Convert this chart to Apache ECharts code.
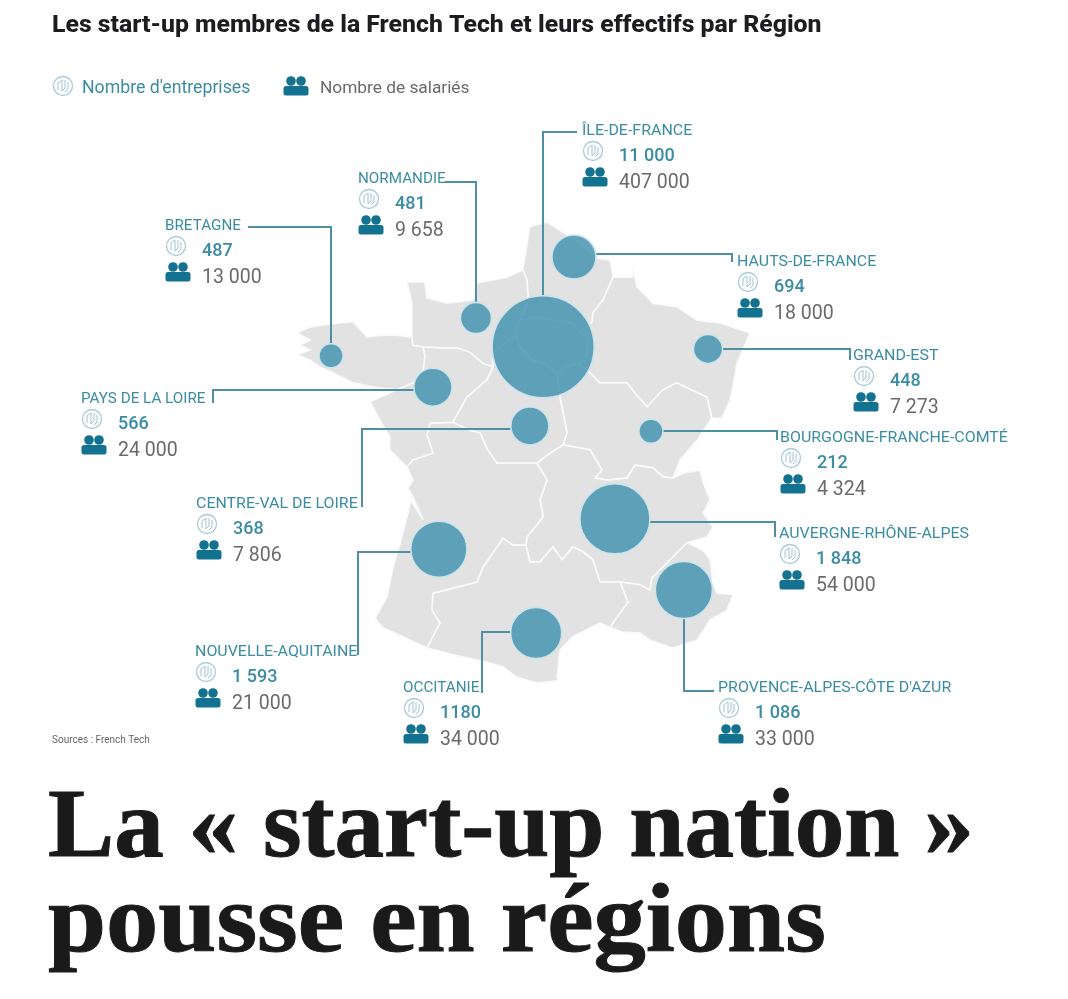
<!DOCTYPE html>
<html lang="fr">
<head>
<meta charset="utf-8">
<title>La start-up nation pousse en régions</title>
<style>
html, body { margin: 0; padding: 0; background: #fff; }
#main { width: 1068px; height: 999px; }
</style>
<script src="https://cdn.jsdelivr.net/npm/echarts@6/dist/echarts.min.js"></script>
</head>
<body>
<div id="main"></div>
<script>
var regions = ['Île-de-France', 'Normandie', 'Bretagne', 'Hauts-de-France', 'Grand-Est', 'Bourgogne-Franche-Comté',
    'Pays de la Loire', 'Centre-Val de Loire', 'Auvergne-Rhône-Alpes', 'Nouvelle-Aquitaine', 'Occitanie', 'Provence-Alpes-Côte d\'Azur'];
var entreprises = ['11 000', '481', '487', '694', '448', '212', '566', '368', '1 848', '1 593', '1180', '1 086'];
var salaries = ['407 000', '9 658', '13 000', '18 000', '7 273', '4 324', '24 000', '7 806', '54 000', '21 000', '34 000', '33 000'];
var longitudes = [2.29, 0.37, -3.77, 3.17, 7.0, 5.37, -0.86, 1.91, 4.34, -0.69, 2.09, 6.31];
var latitudes = [48.70, 49.24, 48.53, 50.39, 48.66, 47.11, 47.94, 47.21, 45.46, 44.89, 43.31, 44.12];

// contours des regions (lon, lat), chaque frontiere une seule fois
var coastHdf = [[1.71,50.15],[1.91,50.96],[2.40,51.05],[3.20,50.71],[3.83,50.37],[4.20,50.33],[4.29,50.01]];
var hdfGe = [[4.29,50.01],[4.0,49.58],[3.71,49.34],[3.69,49.17],[3.34,48.96]];
var hdfIdf = [[1.63,49.2],[2.11,49.26],[2.57,49.2],[3.14,49.15],[3.34,48.96]];
var normHdf = [[1.71,50.15],[1.83,49.96],[1.86,49.58],[1.63,49.2]];
var geOuter = [[4.29,50.01],[4.83,50.01],[4.86,50.15],[4.97,49.83],[5.43,49.52],[6.11,49.45],[6.69,49.2],[7.34,49.15],[8.2,48.96],[7.83,48.39],[7.71,47.94],[7.63,47.7],[7.4,47.36],[7.11,47.36]];
var geBfc = [[3.26,48.39],[3.63,48.21],[3.91,48.02],[4.69,48.02],[4.91,47.83],[5.26,47.57],[5.71,47.89],[6.11,48.02],[6.97,47.75],[7.11,47.36]];
var geIdf = [[3.34,48.96],[3.57,48.88],[3.54,48.45],[3.26,48.39]];
var bfcOuter = [[7.11,47.36],[6.69,46.94],[6.2,46.57],[6.0,46.23]];
var bfcAra = [[2.86,46.85],[3.63,46.76],[3.97,46.38],[3.77,46.23],[4.11,46.19],[4.69,46.23],[4.91,46.47],[5.43,46.42],[5.71,46.25],[6.0,46.23]];
var cvlBfc = [[2.86,46.85],[2.97,47.08],[2.86,47.45],[2.77,47.74],[2.69,48.21]];
var idfBfc = [[3.26,48.39],[2.97,48.32],[2.69,48.21]];
var araOuter = [[6.0,46.23],[6.29,46.32],[6.77,46.38],[6.86,46.14],[7.06,45.82],[6.86,45.57],[7.14,45.31],[6.97,45.12],[6.4,45.01]];
var araPaca = [[4.49,44.27],[5.06,44.22],[5.34,44.12],[5.4,44.35],[5.83,44.63],[6.4,45.01]];
var occAra = [[1.8,44.97],[1.91,44.65],[2.2,44.65],[2.57,44.93],[2.83,44.69],[3.14,44.93],[3.43,44.84],[3.71,44.69],[3.91,44.27],[4.49,44.27]];
var araNa = [[2.11,46.51],[2.4,46.19],[2.2,45.82],[2.29,45.5],[1.83,45.12],[1.8,44.97]];
var cvlAra = [[2.11,46.51],[2.49,46.7],[2.86,46.85]];
var pacaOuter = [[6.4,45.01],[6.86,44.87],[7.06,44.69],[7.14,44.25],[7.26,44.06],[7.71,44.03],[7.54,43.74],[7.06,43.56],[6.69,43.18],[6.0,43.03],[5.34,43.18],[5.06,43.31],[4.54,43.33],[4.2,43.42]];
var occPaca = [[4.49,44.27],[4.71,43.89],[4.49,43.69],[4.2,43.42]];
var occOuter = [[4.2,43.42],[3.91,43.5],[3.14,43.24],[2.77,42.99],[2.69,42.48],[2.71,42.41],[2.11,42.37],[1.54,42.48],[1.14,42.67],[0.69,42.76],[0,42.86],[-1.03,43.03]];
var occNa = [[1.8,44.97],[1.43,44.97],[1.14,45.1],[0.97,44.93],[0.57,44.55],[0.4,44.27],[-0.86,44.06],[-0.89,43.74],[-0.66,43.5],[-1.03,43.03]];
var naOuter = [[-1.03,43.03],[-1.71,43.24],[-2.29,43.41],[-2.51,43.59],[-2.17,43.99],[-2.0,44.55],[-1.8,45.0],[-1.6,45.49],[-1.49,45.81],[-1.14,45.44],[-1.43,45.87],[-1.57,46.04],[-1.43,46.19],[-1.6,46.44]];
var pdlNa = [[-0.29,47.28],[-0.94,47.26],[-1.03,47.04],[-0.86,46.7],[-1.43,46.57],[-1.6,46.44]];
var cvlNa = [[-0.29,47.28],[0.2,47.13],[0.49,47.08],[0.71,46.76],[0.97,46.51],[2.11,46.51]];
var pdlOuter = [[-1.6,46.44],[-2.09,46.76],[-2.09,47.0],[-2.37,47.32],[-2.66,47.66],[-2.37,47.75],[-1.89,47.89]];
var bzhPdl = [[-1.14,48.7],[-1.09,48.51],[-1.14,48.26],[-1.43,48.02],[-1.89,47.89]];
var normPdl = [[0.86,48.32],[0.57,48.39],[0.2,48.6],[-0.17,48.68],[-0.57,48.68],[-1.14,48.7]];
var pdlCvl = [[0.86,48.32],[0.69,48.08],[0.11,47.75],[-0.09,47.51],[-0.29,47.28]];
var bzhOuter = [[-1.89,47.89],[-2.57,47.94],[-3.14,48.02],[-3.71,48.21],[-4.09,48.32],[-4.37,48.45],[-4.74,48.55],[-4.37,48.64],[-4.66,48.73],[-4.37,48.83],[-4.74,48.96],[-4.37,49.07],[-4.0,49.11],[-3.51,49.15],[-3.14,49.17],[-2.74,48.88],[-2.37,48.92],[-1.89,48.92],[-1.46,48.88]];
var normBzh = [[-1.14,48.7],[-1.43,48.73],[-1.46,48.88]];
var normOuter = [[-1.46,48.88],[-1.46,49.2],[-1.46,49.52],[-1.6,49.92],[-1.09,49.92],[-1.03,49.62],[-0.46,49.52],[0.29,49.58],[0.4,49.9],[1.26,50.01],[1.71,50.15]];
var idfNorm = [[1.49,48.92],[1.54,49.11],[1.63,49.2]];
var normCvl = [[1.49,48.92],[0.86,48.58],[0.86,48.32]];
var idfCvl = [[2.69,48.21],[2.29,48.39],[1.97,48.45],[1.63,48.7],[1.49,48.92]];

function back(edge) {
    return edge.slice().reverse();
}
function ring() {
    var pts = [];
    for (var i = 0; i < arguments.length; i++) {
        pts = pts.concat(arguments[i]);
    }
    pts.push(pts[0]);
    return pts;
}
var rings = {
    'Hauts-de-France': ring(coastHdf, hdfGe, back(hdfIdf), back(normHdf)),
    'Grand-Est': ring(geOuter, back(geBfc), back(geIdf), back(hdfGe)),
    'Bourgogne-Franche-Comté': ring(bfcOuter, back(bfcAra), cvlBfc, back(idfBfc), geBfc),
    'Auvergne-Rhône-Alpes': ring(araOuter, back(araPaca), back(occAra), back(araNa), cvlAra, bfcAra),
    'Provence-Alpes-Côte d\'Azur': ring(pacaOuter, back(occPaca), araPaca),
    'Occitanie': ring(occOuter, back(occNa), occAra, occPaca),
    'Nouvelle-Aquitaine': ring(naOuter, back(pdlNa), cvlNa, araNa, occNa),
    'Pays de la Loire': ring(pdlOuter, back(bzhPdl), back(normPdl), pdlCvl, pdlNa),
    'Bretagne': ring(bzhOuter, back(normBzh), bzhPdl),
    'Normandie': ring(normOuter, normHdf, back(idfNorm), normCvl, normPdl, normBzh),
    'Île-de-France': ring(hdfIdf, geIdf, idfBfc, idfCvl, idfNorm),
    'Centre-Val de Loire': ring(back(idfCvl), back(cvlBfc), back(cvlAra), back(cvlNa), back(pdlCvl), back(normCvl))
};
var features = [];
for (var name in rings) {
    features.push({type: 'Feature', properties: {name: name}, geometry: {type: 'Polygon', coordinates: [rings[name]]}});
}
echarts.registerMap('france', {type: 'FeatureCollection', features: features});

var TEAL = '#3a8ca4';
var DARK_TEAL = '#12728f';
var GREY = '#6a6a6a';
var LEADER = '#4f8ea3';
var LABEL_FONT = 'Roboto';

// rayon des bulles et mise en page des etiquettes, dans l'ordre de regions
var radius = [51, 15.5, 12, 22, 14.5, 12, 19, 19, 35, 28, 25.5, 28.5];
var labelPos = [[582,129],[358,177],[165,224],[737,260],[853,354],[780,436],[81,397],[196,502],[779,532],[195,650],[403,686],[718,686]];
var elbows = [
    [[543,132],[577,132]],
    [[476,182],[445,182]],
    [[331,227],[248,227]],
    [[732,254],[732,262]],
    [[850,349],[850,360]],
    [[777,431],[777,440]],
    [[213,390],[213,403]],
    [[362,429],[362,507]],
    [[775,522],[775,537]],
    [[358,552],[358,655]],
    [[482,632],[482,693]],
    [[684,691],[714,691]]
];

var myChart = echarts.init(document.getElementById('main'));

var bubbles = [];
for (var b = 0; b < regions.length; b++) {
    bubbles.push({name: regions[b], value: [longitudes[b], latitudes[b], entreprises[b], salaries[b]], symbolSize: radius[b] * 2});
}

myChart.setOption({
    animation: false,
    backgroundColor: '#fff',
    geo: {
        map: 'france',
        silent: true,
        roam: false,
        boundingCoords: [[-5, 51.2], [8.4, 42.2]],
        aspectScale: 0.659,
        left: 288,
        top: 214,
        width: 469,
        height: 478,
        label: {show: false},
        itemStyle: {areaColor: '#e2e2e2', borderColor: '#fafafa', borderWidth: 1.6}
    },
    series: [{
        type: 'scatter',
        coordinateSystem: 'geo',
        silent: true,
        z: 3,
        itemStyle: {color: 'rgba(71,148,176,0.85)', opacity: 1, borderColor: '#cbe4ec', borderWidth: 1.5},
        data: bubbles
    }]
});

function text(str, x, y, font, fill, scaleX) {
    return {type: 'text', x: x, y: y + 2, scaleX: scaleX || 1, silent: true, style: {text: str, font: font, fill: fill, textVerticalAlign: 'middle', textBaseline: 'middle'}};
}
// le texte est cale par le bas de sa ligne
function headline(str, y, scaleX) {
    return {
        type: 'text', x: 48, y: y, scaleX: scaleX, silent: true,
        style: {text: str, font: 'bold 98px "Liberation Serif"', fill: '#1a1a1a', stroke: '#1a1a1a', lineWidth: 1, textBaseline: 'alphabetic', textVerticalAlign: 'bottom'}
    };
}
function companyIcon(x, y) {
    var line = {stroke: '#9cc4cf', lineWidth: 1, fill: null};
    return {
        type: 'group', x: x, y: y, silent: true,
        children: [
            {type: 'circle', shape: {cx: 0, cy: 0, r: 9.5}, style: {stroke: '#a9ccd6', lineWidth: 1.3, fill: '#fff'}},
            {type: 'polyline', shape: {points: [[-5,4],[-5,-3],[-1,-6],[-1,5]]}, style: line},
            {type: 'polyline', shape: {points: [[2,-6],[2,2],[-1,5]]}, style: line},
            {type: 'polyline', shape: {points: [[5,-4],[5,3],[2,6]]}, style: line}
        ]
    };
}
function peopleIcon(x, y) {
    return {
        type: 'group', x: x, y: y, silent: true,
        children: [
            {type: 'circle', shape: {cx: -5, cy: -5, r: 4.8}, style: {fill: DARK_TEAL}},
            {type: 'circle', shape: {cx: 5, cy: -5, r: 4.8}, style: {fill: DARK_TEAL}},
            {type: 'rect', shape: {x: -12.5, y: 0, width: 25, height: 9.5, r: 2.5}, style: {fill: DARK_TEAL}}
        ]
    };
}

var elements = [];
elements.push(text('Les start-up membres de la French Tech et leurs effectifs par Région', 52, 24, '800 24.8px Roboto', '#1d1d1f'));
elements.push(companyIcon(63, 86));
elements.push(text('Nombre d\'entreprises', 82, 87, '400 17.7px ' + LABEL_FONT, TEAL));
elements.push(peopleIcon(296, 86));
elements.push(text('Nombre de salariés', 320, 87, '400 17.3px ' + LABEL_FONT, GREY));
elements.push(text('Sources : French Tech', 52, 738, '10px ' + LABEL_FONT, '#666'));
elements.push(headline('La « start-up nation »', 880, 1.012));
elements.push(headline('pousse en régions', 975, 1.066));

for (var i = 0; i < regions.length; i++) {
    var lx = labelPos[i][0], ly = labelPos[i][1];
    var nameScale = regions[i].indexOf('-') >= 0 ? 1.1 : 1.05;
    elements.push(text(regions[i].toUpperCase(), lx, ly, '14.5px ' + LABEL_FONT, TEAL, nameScale));
    elements.push(companyIcon(lx + 11, ly + 22));
    elements.push(text(entreprises[i], lx + 37, ly + 25, '500 18px ' + LABEL_FONT, TEAL));
    elements.push(peopleIcon(lx + 13, ly + 48));
    elements.push(text(salaries[i], lx + 37, ly + 52, '19.5px ' + LABEL_FONT, GREY));

    // le trait part du bord de la bulle
    var c = myChart.convertToPixel('geo', [longitudes[i], latitudes[i]]);
    var first = elbows[i][0], start;
    if (Math.abs(first[0] - c[0]) > Math.abs(first[1] - c[1])) {
        start = [c[0] + (first[0] > c[0] ? radius[i] : -radius[i]), first[1]];
    } else {
        start = [first[0], c[1] + (first[1] > c[1] ? radius[i] : -radius[i])];
    }
    elements.push({
        type: 'polyline', silent: true, z: 1,
        shape: {points: [start].concat(elbows[i])},
        style: {stroke: LEADER, lineWidth: 2, fill: null}
    });
}
myChart.setOption({graphic: {elements: elements}});
</script>
</body>
</html>
